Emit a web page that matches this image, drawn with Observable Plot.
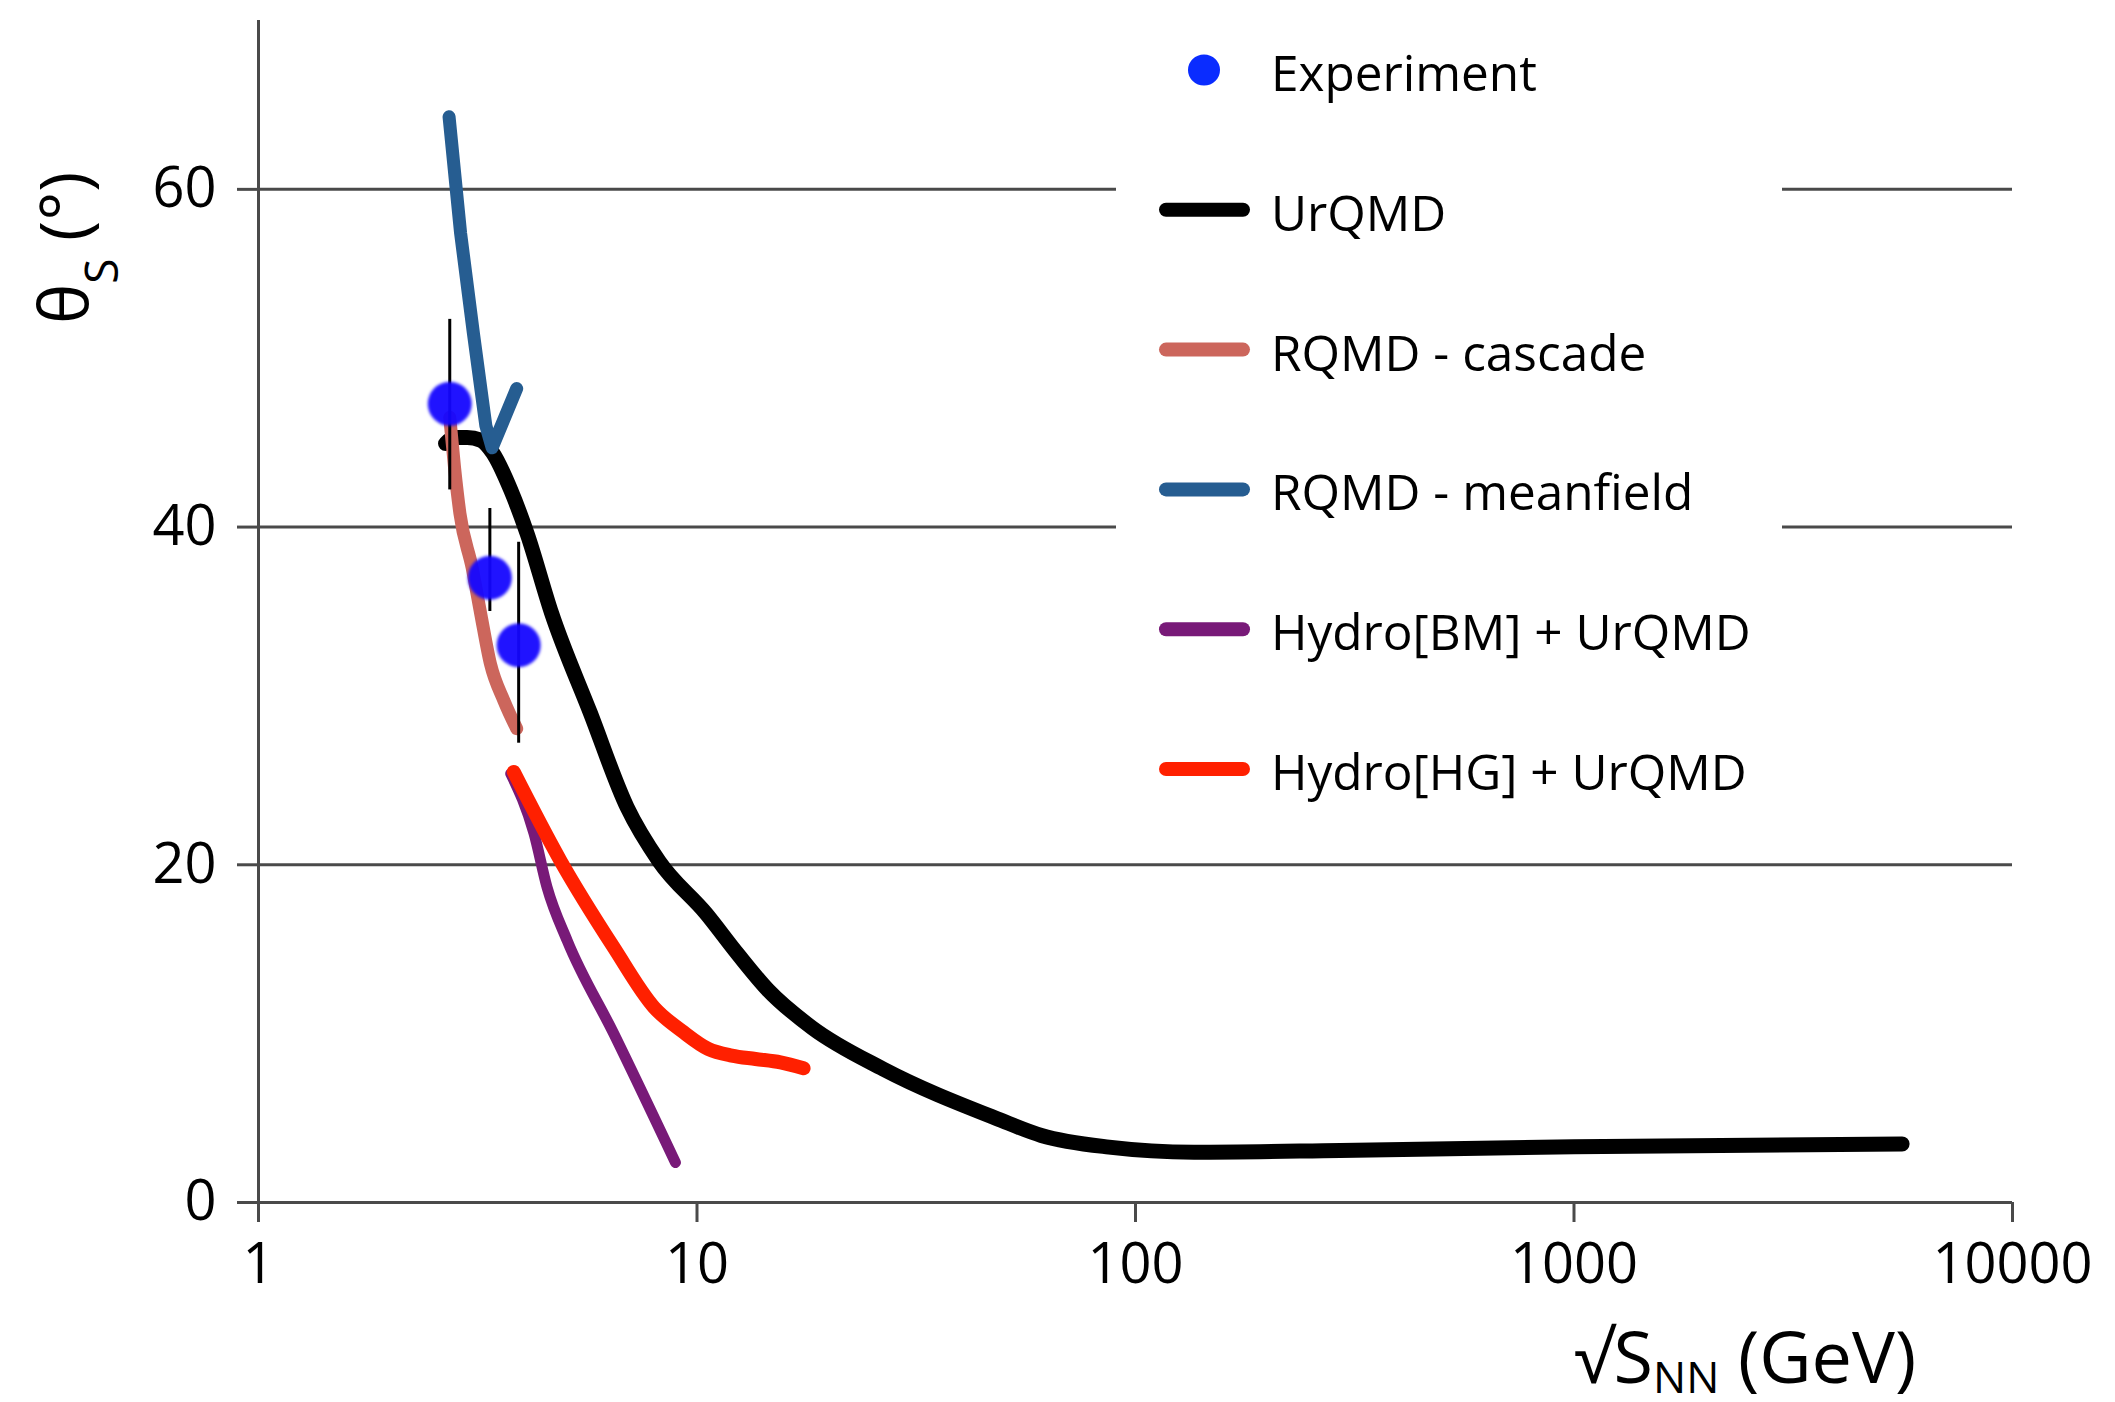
<!DOCTYPE html>
<html>
<head>
<meta charset="utf-8">
<script src="https://cdn.jsdelivr.net/npm/d3@7"></script>
<script src="https://cdn.jsdelivr.net/npm/@observablehq/plot@0.6"></script>
<style>
html, body { margin: 0; padding: 0; background: #fff; }
#chart { width: 2115px; height: 1402px; }
</style>
</head>
<body>
<div id="chart"></div>
<script>
// ---- Data ----
const xTicks = [1, 10, 100, 1000, 10000];
const yTicks = [0, 20, 40, 60];
const gridY = [20, 40, 60];

// Experiment
const expX  = [2.73, 3.37, 3.92];
const expY  = [47.3, 37.0, 33.0];
const expLo = [42.2, 35.0, 27.2];
const expHi = [52.3, 41.1, 39.1];

// UrQMD
const urqmdX = [2.67, 2.8, 2.99, 3.21, 3.42, 3.76, 4.1, 4.66, 5.71, 6.93, 8.2, 10.5, 12.4, 14.5, 18.3, 26.6, 48.5, 61, 87, 136, 293, 1000, 5600];
const urqmdY = [44.95, 45.3, 45.3, 45.15, 44.4, 42.2, 39.6, 34.9, 29.0, 23.4, 20.2, 17.1, 14.7, 12.6, 10.35, 7.9, 4.95, 3.97, 3.28, 2.98, 3.08, 3.3, 3.47];

// RQMD - cascade
const cascadeX = [2.73, 2.80, 2.88, 3.07, 3.21, 3.38, 3.63, 3.88];
const cascadeY = [46.5, 43.5, 40.8, 37.6, 34.9, 31.9, 29.7, 28.06];

// RQMD - meanfield
const meanfieldX = [2.72, 2.89, 3.09, 3.30, 3.41, 3.88];
const meanfieldY = [64.3, 57.4, 51.5, 46.0, 44.7, 48.2];

// Hydro[BM] + UrQMD
const hydroBMX = [3.76, 4.25, 4.55, 5.06, 6.46, 8.93];
const hydroBMY = [25.4, 21.85, 18.67, 15.5, 10.0, 2.37];

// Hydro[HG] + UrQMD
const hydroHGX = [3.82, 4.88, 6.46, 7.98, 9.3, 10.6, 12.0, 13.6, 15.5, 17.5];
const hydroHGY = [25.5, 20.25, 15.1, 11.56, 10.1, 9.1, 8.7, 8.5, 8.3, 7.95];

const legendNames  = ["Experiment", "UrQMD", "RQMD - cascade", "RQMD - meanfield", "Hydro[BM] + UrQMD", "Hydro[HG] + UrQMD"];
const legendColors = ["#0a2cff", "#000000", "#cc665c", "#265d91", "#781a78", "#ff2000"];
const dotColor = "#1406ff";

// ---- Build tables ----
const zip = (xs, ys) => xs.map((x, i) => ({x, y: ys[i]}));
const exp = expX.map((x, i) => ({x, y: expY[i], lo: expLo[i], hi: expHi[i]}));
const series = [
  {data: zip(urqmdX, urqmdY),         color: legendColors[1], w: 15, curve: "monotone-x"},
  {data: zip(hydroBMX, hydroBMY),     color: legendColors[4], w: 11, curve: "monotone-x"},
  {data: zip(hydroHGX, hydroHGY),     color: legendColors[5], w: 14, curve: "monotone-x"},
  {data: zip(cascadeX, cascadeY),     color: legendColors[2], w: 13, curve: "monotone-x"},
  {data: zip(meanfieldX, meanfieldY), color: legendColors[3], w: 13, curve: "linear"}
];

const FONT = "'Open Sans', 'Noto Sans', sans-serif";
const axisColor = "#4a4a4a";

const chart = Plot.plot({
  width: 2115,
  height: 1402,
  marginLeft: 258,
  marginRight: 103,
  marginTop: 20,
  marginBottom: 200,
  style: {fontFamily: FONT, fontSize: "56px", background: "#fff", color: "#000", overflow: "visible"},
  x: {type: "log", domain: [1, 10000], label: null},
  y: {domain: [0, 70], label: null},
  marks: [
    Plot.ruleY(gridY, {stroke: axisColor, strokeWidth: 3}),
    Plot.ruleX([1], {stroke: axisColor, strokeWidth: 3}),
    Plot.ruleY([0], {stroke: axisColor, strokeWidth: 3}),
    Plot.axisX(xTicks, {tickFormat: d => String(d), tickSize: 20, tickPadding: 21, fontSize: 56, stroke: axisColor, strokeWidth: 3, fill: "#000", label: null}),
    Plot.axisY(yTicks, {tickSize: 21, tickPadding: 21, fontSize: 56, stroke: axisColor, strokeWidth: 3, fill: "#000", label: null}),
    ...series.map(s => Plot.line(s.data, {x: "x", y: "y", stroke: s.color, strokeWidth: s.w, curve: s.curve, strokeLinecap: "round", strokeLinejoin: "round"})),
    Plot.ruleX(exp, {x: "x", y1: "lo", y2: "hi", stroke: "#000", strokeWidth: 3}),
    Plot.dot(exp, {x: "x", y: "y", r: 22, fill: dotColor, fillOpacity: 0.95, stroke: "none"})
  ]
});

document.getElementById("chart").appendChild(chart);

const svg = d3.select(chart);
svg.selectAll('g[aria-label="dot"]').style("filter", "blur(1.5px)");

// ---- Legend (inside plot, white box) ----
const lg = svg.append("g").attr("font-family", FONT).attr("text-anchor", "start");
lg.append("rect").attr("x", 1116).attr("y", 22).attr("width", 666).attr("height", 805).attr("fill", "#fff");
legendNames.forEach((name, i) => {
  const cy = 70 + i * 139.8;
  if (i === 0) {
    lg.append("ellipse").attr("cx", 1204).attr("cy", cy).attr("rx", 16).attr("ry", 15.5).attr("fill", legendColors[i]);
  } else {
    lg.append("line").attr("x1", 1166).attr("x2", 1243).attr("y1", cy).attr("y2", cy)
      .attr("stroke", legendColors[i]).attr("stroke-width", 14).attr("stroke-linecap", "round");
  }
  lg.append("text").attr("x", 1271).attr("y", cy + 21).attr("font-size", 49.5).attr("fill", "#000")
    .attr("text-anchor", "start").text(name);
});

// ---- Axis titles ----
const yt = svg.append("text")
  .attr("font-family", FONT).attr("font-size", 68).attr("fill", "#000")
  .attr("transform", "translate(88,324) rotate(-90)")
  .attr("text-anchor", "start");
yt.append("tspan").text("θ");
yt.append("tspan").attr("font-size", 46).attr("dy", 30).text("S");
yt.append("tspan").attr("dy", -30).text(" (°)");

const xt = svg.append("text")
  .attr("font-family", FONT).attr("font-size", 72).attr("fill", "#000")
  .attr("text-anchor", "start")
  .attr("x", 1574).attr("y", 1383);
xt.append("tspan").text("√S");
xt.append("tspan").attr("font-size", 44).attr("dy", 10).text("NN");
xt.append("tspan").attr("dy", -10).text(" (GeV)");
</script>
</body>
</html>
